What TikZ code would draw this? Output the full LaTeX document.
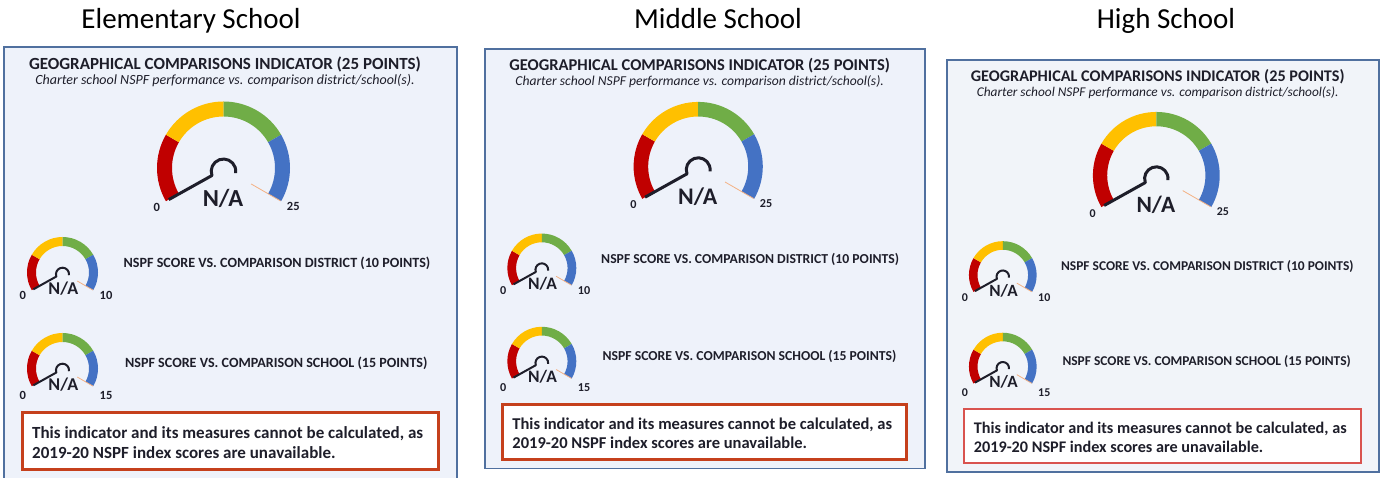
\documentclass[tikz,border=0pt]{standalone}
\usepackage{fontspec}
\setmainfont{Carlito}
\definecolor{gRed}{HTML}{C00000}
\definecolor{gYel}{HTML}{FFC000}
\definecolor{gGrn}{HTML}{70AD47}
\definecolor{gBlu}{HTML}{4472C4}
\definecolor{gTan}{HTML}{F4B183}
\definecolor{panelbg}{HTML}{EEF2FA}
\definecolor{panelbgB}{HTML}{F1F4F9}
\definecolor{panelbd}{HTML}{50709F}
\definecolor{boxbd}{HTML}{C5401C}
\definecolor{boxbdB}{HTML}{D9534F}
\definecolor{ink}{HTML}{1E1E2A}
\tikzset{
  heading/.style={font=\fontsize{29}{32}\selectfont, anchor=base, inner sep=0pt},
  titletext/.style={font=\bfseries\fontsize{17}{19}\selectfont, text=ink, anchor=base, inner sep=0pt},
  subtext/.style={font=\itshape\fontsize{14}{16}\selectfont, text=ink, anchor=base, inner sep=0pt},
  bigna/.style={font=\bfseries\fontsize{24.5}{27}\selectfont, text=ink, anchor=base, inner sep=0pt},
  smallna/.style={font=\bfseries\fontsize{18}{20}\selectfont, text=ink, anchor=base, inner sep=0pt},
  ticklabel/.style={font=\bfseries\fontsize{12.5}{14}\selectfont, text=ink, anchor=base, inner sep=0pt},
  measure/.style={font=\bfseries\fontsize{14.1}{16}\selectfont, text=ink, anchor=base, inner sep=0pt},
  notetext/.style={font=\bfseries\fontsize{17}{19}\selectfont, text=ink, anchor=base west, inner sep=0pt},
}
% gauge: #1 cx, #2 cy, #3 outer radius, #4 thickness, #5 needle width
\newcommand\gauge[5]{%
  \begin{scope}[shift={(#1,#2)}]
    \fill[gRed] (210:#3) arc[start angle=210,end angle=150,radius=#3] -- (150:{#3-#4}) arc[start angle=150,end angle=210,radius={#3-#4}] -- cycle;
    \fill[gYel] (150:#3) arc[start angle=150,end angle=90,radius=#3] -- (90:{#3-#4}) arc[start angle=90,end angle=150,radius={#3-#4}] -- cycle;
    \fill[gGrn] (90:#3) arc[start angle=90,end angle=30,radius=#3] -- (30:{#3-#4}) arc[start angle=30,end angle=90,radius={#3-#4}] -- cycle;
    \fill[gBlu] (30:#3) arc[start angle=30,end angle=-30,radius=#3] -- (-30:{#3-#4}) arc[start angle=-30,end angle=30,radius={#3-#4}] -- cycle;
    \draw[gTan, line width=0.8pt] (-30:{0.48*#3}) -- (-30:{0.99*#3});
    \draw[ink, line width=#5, line join=round] (210:{0.95*#3}) -- ({-0.1738*#3},{-0.1133*#3}) arc[start angle=200,end angle=-8,radius={0.185*#3}];
  \end{scope}}
% panel: #1 prefix, #2 background, #3 panel border width, #4 note border colour, #5 note border width
\newcommand\panel[5]{%
  \draw[panelbd, fill=#2, line width=#3] (0,0) rectangle (453,-432);
  \node[titletext] (#1title) at (221,-22.3) {GEOGRAPHICAL COMPARISONS INDICATOR (25 POINTS)};
  \node[subtext] (#1sub) at (221,-38) {Charter school NSPF performance vs. comparison district/school(s).};
  \gauge{219.5}{-121}{66.5}{15}{3pt}
  \node[bigna] (#1na) at (219,-159.7) {N/A};
  \node[ticklabel] (#1zero) at (152.7,-164.7) {0};
  \node[ticklabel] (#1max) at (289.3,-163.5) {25};
  \gauge{58.5}{-225.5}{35.5}{9}{2pt}
  \node[smallna] (#1naA) at (59.3,-248) {N/A};
  \node[ticklabel] (#1zeroA) at (18.7,-253) {0};
  \node[ticklabel] (#1maxA) at (102,-253) {10};
  \node[measure] (#1measA) at (273,-220.7) {NSPF SCORE VS. COMPARISON DISTRICT (10 POINTS)};
  \gauge{58.5}{-321.5}{35.5}{9}{2pt}
  \node[smallna] (#1naB) at (59.3,-343.7) {N/A};
  \node[ticklabel] (#1zeroB) at (18.7,-353) {0};
  \node[ticklabel] (#1maxB) at (102,-353) {15};
  \node[measure] (#1measB) at (272.3,-320.7) {NSPF SCORE VS. COMPARISON SCHOOL (15 POINTS)};
  \draw[#4, fill=white, line width=#5] (18,-366) rectangle (434,-423);
  \node[notetext] (#1noteA) at (28,-391.3) {This indicator and its measures cannot be calculated, as};
  \node[notetext] (#1noteB) at (28,-411.3) {2019-20 NSPF index scores are unavailable.};
}
\begin{document}
\begin{tikzpicture}[x=1pt,y=1pt]
  \useasboundingbox (0,0) rectangle (1380,478);
  \fill[white] (0,0) rectangle (1380,478);
  \node[heading] (hElem) at (191,449) {Elementary School};
  \node[heading] (hMid) at (718,449) {Middle School};
  \node[heading] (hHigh) at (1166,449) {High School};
  \begin{scope}[shift={(4,431)}]
    \panel{e}{panelbg}{1.5pt}{boxbd}{3pt}
  \end{scope}
  \begin{scope}[shift={(485,429)}, scale=0.9713, transform shape]
    \panel{m}{panelbg}{1.5pt}{boxbd}{3pt}
  \end{scope}
  \begin{scope}[shift={(947,418)}, scale=0.9536, transform shape]
    \panel{h}{panelbgB}{2pt}{boxbdB}{2pt}
  \end{scope}
\end{tikzpicture}
\end{document}
